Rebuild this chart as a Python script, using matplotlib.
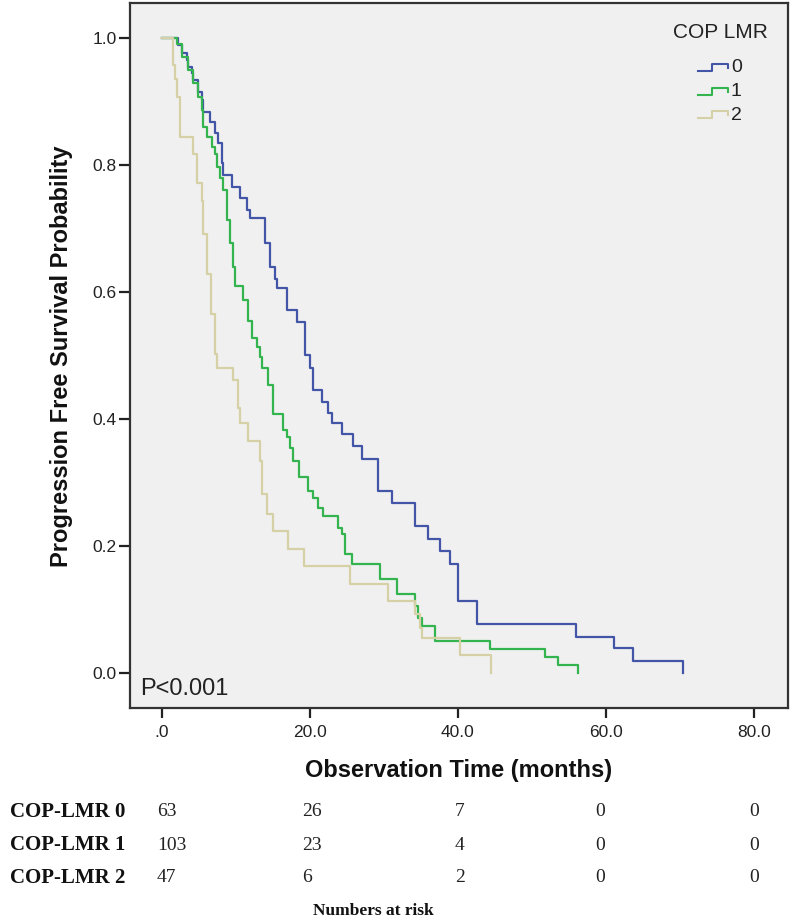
import matplotlib
matplotlib.use("Agg")
import matplotlib.pyplot as plt
from matplotlib.lines import Line2D

# ---------------- data ----------------
group_labels = ["0", "1", "2"]
legend_title = "COP LMR"

times_0 = [0, 2.2, 2.7, 3.4, 3.5, 4.1, 4.2, 4.9, 5.4, 5.5, 6.5, 7.2, 7.6, 8.1, 8.2, 9.5, 10.5, 11.5, 11.9, 13.9,
           14.6, 15.3, 15.5, 16.9, 18.2, 19.3, 20.0, 20.4, 21.6, 22.4, 23.0, 24.3, 25.8, 27.0, 29.2, 31.1, 34.2,
           35.9, 37.6, 38.9, 40.0, 42.6, 55.9, 61.1, 63.7, 70.4]
surv_0 = [1.0, 0.989, 0.976, 0.965, 0.954, 0.945, 0.934, 0.915, 0.902, 0.883, 0.867, 0.85, 0.834, 0.803, 0.784,
          0.765, 0.748, 0.729, 0.716, 0.677, 0.639, 0.62, 0.606, 0.571, 0.552, 0.50, 0.481, 0.445, 0.426, 0.41,
          0.393, 0.377, 0.358, 0.337, 0.287, 0.268, 0.232, 0.211, 0.192, 0.172, 0.114, 0.077, 0.057, 0.039,
          0.019, 0.0]

times_1 = [0, 2.0, 2.7, 3.5, 4.2, 4.9, 5.4, 5.5, 6.1, 6.8, 7.2, 7.4, 7.8, 8.2, 8.8, 9.2, 9.6, 9.9, 10.9, 11.6,
           12.2, 12.8, 13.2, 13.6, 14.3, 15.0, 16.4, 16.9, 17.3, 17.7, 18.6, 19.7, 20.4, 21.1, 21.8, 23.8, 24.3,
           24.7, 25.7, 29.5, 31.8, 34.2, 34.6, 35.1, 36.9, 44.3, 51.8, 53.5, 56.2]
surv_1 = [1.0, 0.99, 0.97, 0.95, 0.929, 0.907, 0.886, 0.86, 0.844, 0.828, 0.818, 0.797, 0.78, 0.76, 0.713, 0.677,
          0.639, 0.61, 0.587, 0.555, 0.528, 0.513, 0.497, 0.481, 0.453, 0.408, 0.382, 0.371, 0.355, 0.334, 0.308,
          0.287, 0.276, 0.26, 0.248, 0.229, 0.219, 0.188, 0.172, 0.148, 0.125, 0.106, 0.087, 0.074, 0.05, 0.038,
          0.025, 0.013, 0.0]

times_2 = [0, 1.5, 1.8, 2.0, 2.4, 2.5, 4.2, 4.7, 5.4, 5.5, 6.1, 6.7, 7.2, 7.4, 9.6, 10.3, 10.5, 11.6, 13.2, 13.6,
           14.2, 15.0, 17.0, 19.2, 25.4, 30.5, 34.2, 34.9, 35.1, 40.3, 44.5]
surv_2 = [1.0, 0.957, 0.936, 0.907, 0.86, 0.844, 0.818, 0.771, 0.744, 0.692, 0.629, 0.566, 0.503, 0.481, 0.461,
          0.418, 0.394, 0.366, 0.334, 0.282, 0.251, 0.224, 0.196, 0.169, 0.14, 0.114, 0.093, 0.071, 0.055, 0.028,
          0.0]

x_ticks = [0, 20, 40, 60, 80]
x_tick_labels = [".0", "20.0", "40.0", "60.0", "80.0"]
y_ticks = [0.0, 0.2, 0.4, 0.6, 0.8, 1.0]
y_tick_labels = ["0.0", "0.2", "0.4", "0.6", "0.8", "1.0"]

risk_row_labels = ["COP-LMR 0", "COP-LMR 1", "COP-LMR 2"]
risk_0 = [63, 26, 7, 0, 0]
risk_1 = [103, 23, 4, 0, 0]
risk_2 = [47, 6, 2, 0, 0]

p_text = "P<0.001"
x_label = "Observation Time (months)"
y_label = "Progression Free Survival Probability"
risk_title = "Numbers at risk"

# ---------------- style ----------------
colors = ["#4355A6", "#34B44E", "#D6D0A6"]
W, H = 800, 919
SANS = ["Liberation Sans", "DejaVu Sans"]
SERIF = ["Liberation Serif", "DejaVu Serif"]


def px(x, y):
    return x / W, 1 - y / H


fig = plt.figure(figsize=(W / 100, H / 100), dpi=100)
fig.patch.set_facecolor("white")
ax = fig.add_axes([130 / W, 1 - 708 / H, (788 - 130) / W, (708 - 3) / H])
ax.set_facecolor("#F0F0F0")

series = [(times_0, surv_0), (times_1, surv_1), (times_2, surv_2)]
for (t, s), c in zip(series, colors):
    ax.step(t, s, where="post", color=c, lw=1.6)

x0 = 0.0
ax.set_xlim(-4.3, 84.6)
ax.set_ylim(-0.055, 1.055)
ax.set_xticks(x_ticks)
ax.set_xticklabels(x_tick_labels, fontsize=12.5, family=SANS, color="#222222")
ax.set_yticks(y_ticks)
ax.set_yticklabels(y_tick_labels, fontsize=12.5, family=SANS, color="#222222")
ax.tick_params(axis="x", direction="out", length=7.5, width=1.6, pad=5, color="#222222")
ax.tick_params(axis="y", direction="out", length=8, width=1.6, pad=1.5, color="#222222")
for side in ["left", "bottom", "right", "top"]:
    ax.spines[side].set_color("#333333")
    ax.spines[side].set_linewidth(1.6)

# axis titles
fig.text(*px(62, 356), y_label, rotation=90, ha="center", va="center",
         fontsize=17, fontweight="bold", family=SANS, color="#111111")
fig.text(*px(459, 770), x_label, ha="center", va="center",
         fontsize=17, fontweight="bold", family=SANS, color="#111111")

# p-value
fig.text(*px(140, 689), p_text, ha="left", va="center", fontsize=17, family=SANS, color="#222222")

# legend
fig.text(*px(768, 33), legend_title, ha="right", va="center", fontsize=15, family=SANS, color="#222222")
for i, (lab, c) in enumerate(zip(group_labels, colors)):
    yc = [68, 92, 115][i]
    xs = [698, 712, 712, 728, 728]
    ys = [yc + 3, yc + 3, yc - 4, yc - 4, yc]
    pts = [px(a, b) for a, b in zip(xs, ys)]
    fig.add_artist(Line2D([p[0] for p in pts], [p[1] for p in pts], transform=fig.transFigure,
                          color=c, lw=1.5))
    fig.text(*px(731, yc), lab, ha="left", va="center", fontsize=14, family=SANS, color="#222222")

# numbers at risk table
col_x = [157, 302, 455, 595, 749]
row_y = [812, 845, 878]
for lab, vals, yv in zip(risk_row_labels, [risk_0, risk_1, risk_2], row_y):
    fig.text(*px(10, yv), lab, ha="left", va="center", fontsize=15, fontweight="bold",
             family=SERIF, color="#111111")
    for xv, v in zip(col_x, vals):
        fig.text(*px(xv, yv), str(v), ha="left", va="center", fontsize=14, family=SERIF, color="#222222")
fig.text(*px(373, 911), risk_title, ha="center", va="center", fontsize=12.5, fontweight="bold",
         family=SERIF, color="#111111")

fig.savefig("out.png", dpi=100, facecolor="white")
